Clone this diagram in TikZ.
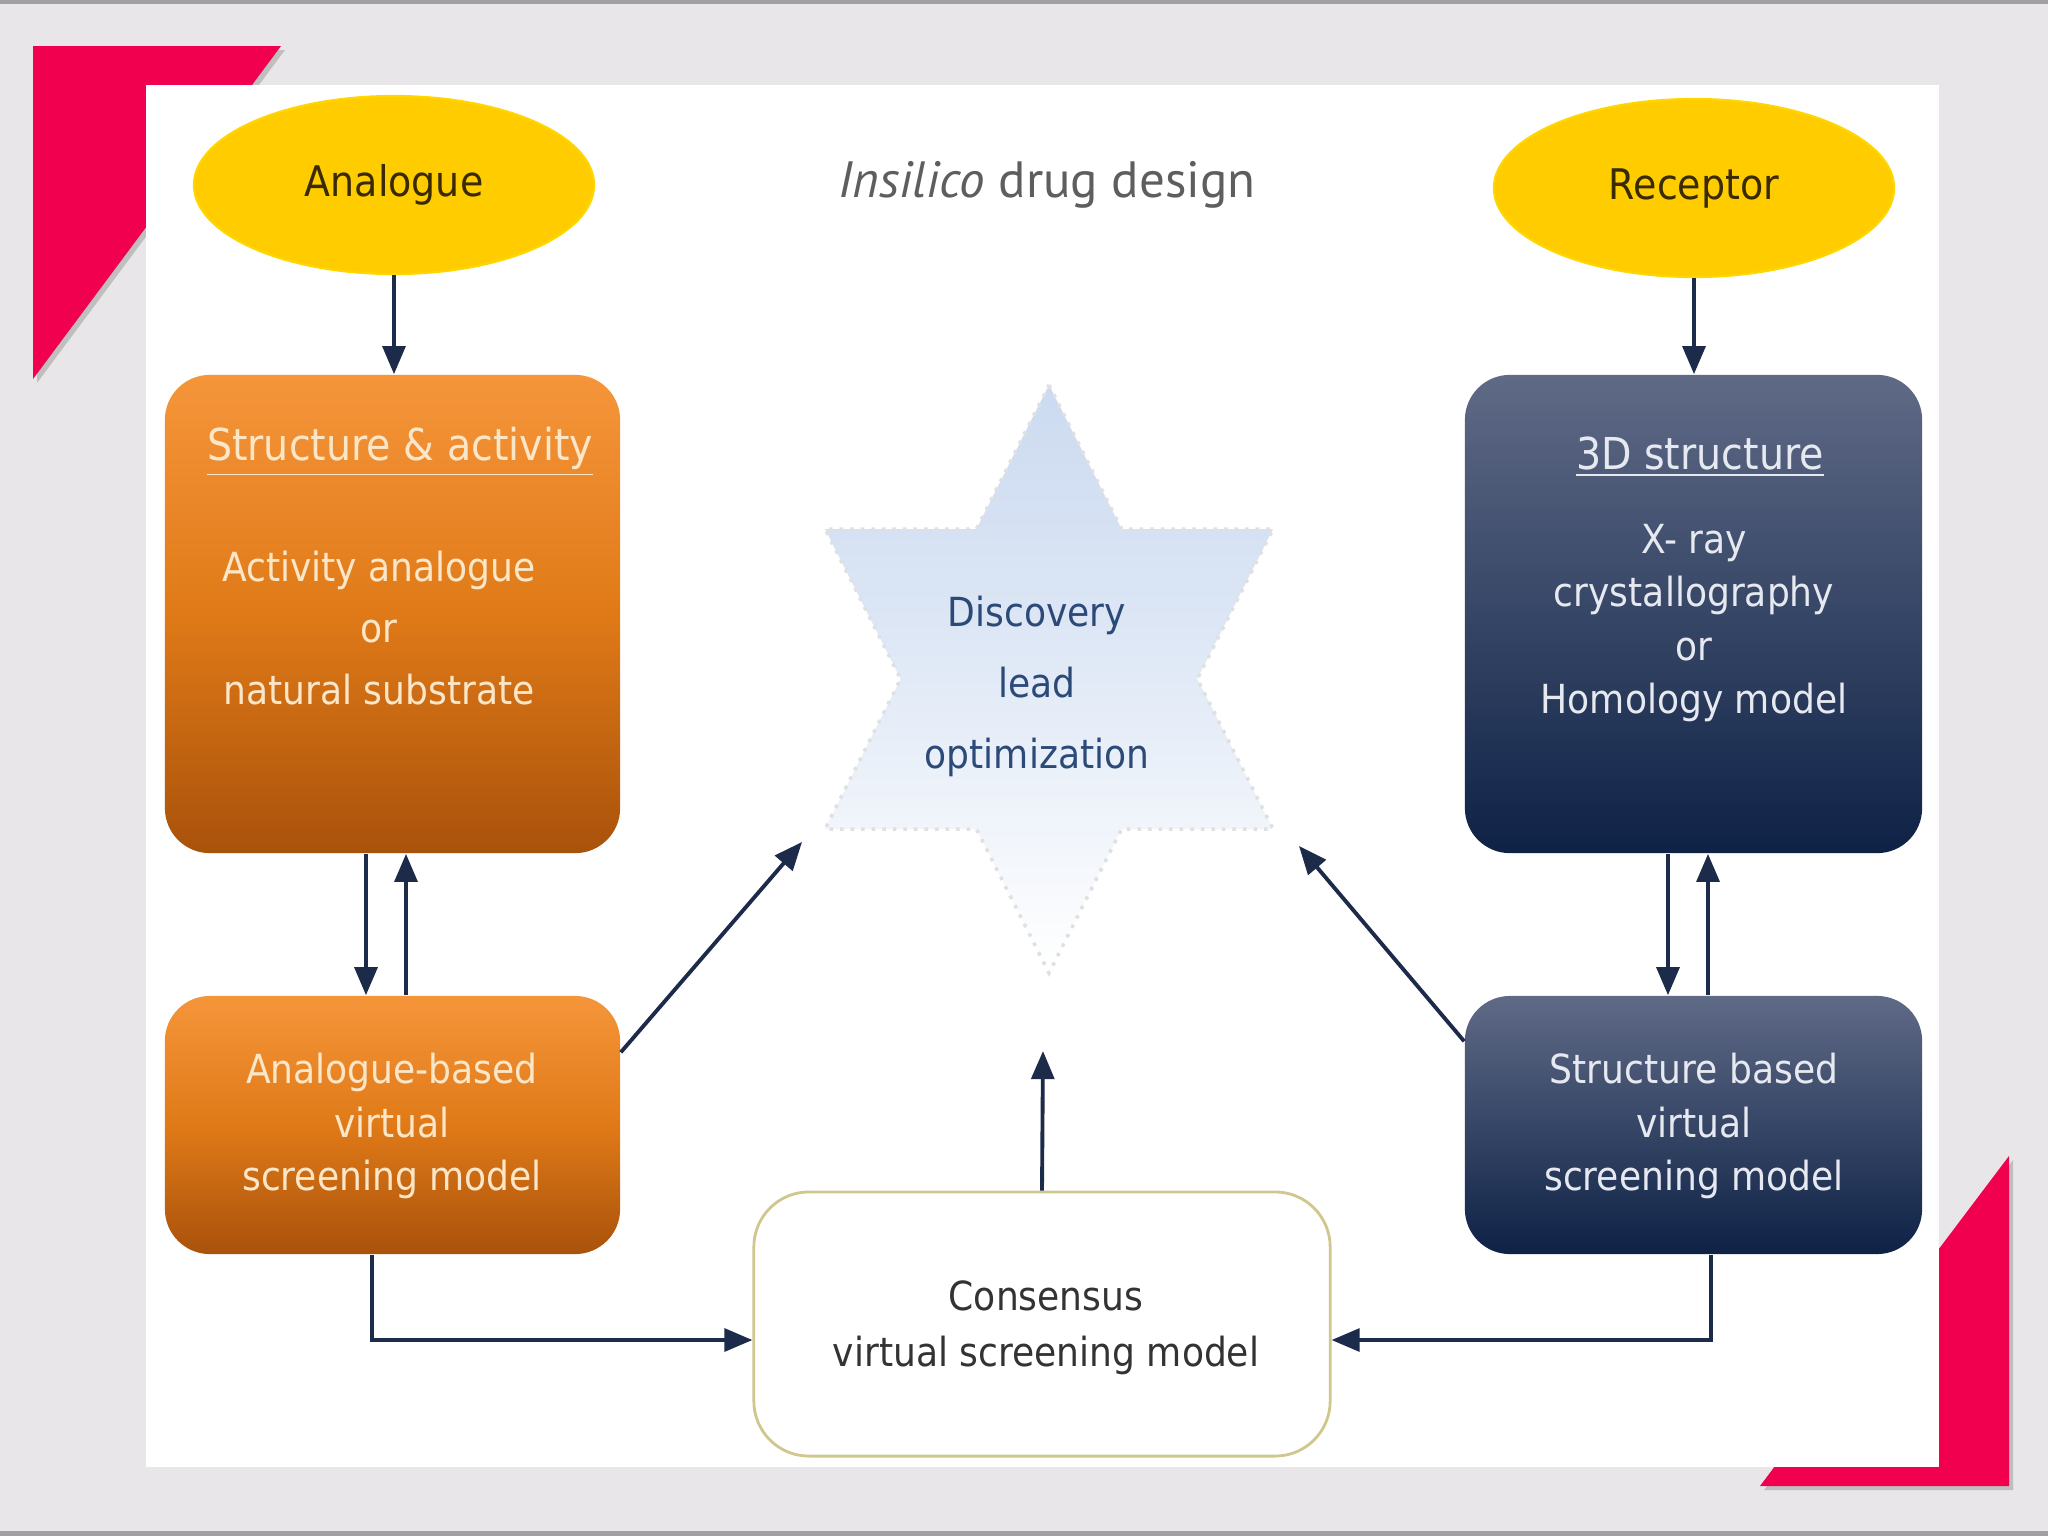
\documentclass[tikz,border=0pt]{standalone}
\usepackage{fontspec}
\setmainfont{DejaVu Sans}[FakeStretch=0.9]
\newfontfamily\titlefont{PT Sans}
\usetikzlibrary{arrows.meta,shapes.geometric}
\definecolor{bggray}{HTML}{E8E6E8}
\definecolor{edgegray}{HTML}{A0A0A0}
\definecolor{pinkred}{HTML}{F0004E}
\definecolor{gold}{HTML}{FFCC00}
\definecolor{goldtext}{HTML}{3A2A00}
\definecolor{orangetop}{HTML}{F5953A}
\definecolor{orangemid}{HTML}{E07A18}
\definecolor{orangebot}{HTML}{A9520B}
\definecolor{navytop}{HTML}{5F6A86}
\definecolor{navybot}{HTML}{0E2246}
\definecolor{cream}{HTML}{FCE6C8}
\definecolor{paletext}{HTML}{E6E9F0}
\definecolor{arrowcol}{HTML}{1C2B4A}
\definecolor{starblue}{HTML}{B8CCEA}
\definecolor{starmid}{HTML}{DCE6F5}
\definecolor{startext}{HTML}{2C4A78}
\definecolor{consborder}{HTML}{CFC78E}
\definecolor{titlegray}{HTML}{5E5E5E}
\pgfdeclareverticalshading{starshade}{100bp}{color(0bp)=(white); color(25bp)=(white); color(55bp)=(starmid); color(100bp)=(starblue)}
\tikzset{
  ell/.style={ellipse, fill=gold, draw=gold!80!yellow, line width=0.6pt, minimum width=4.0cm, minimum height=1.78cm, text=goldtext, font=\fontsize{12}{14}\selectfont},
  obox/.style={rectangle, rounded corners=0.45cm, top color=orangetop, bottom color=orangebot, middle color=orangemid, draw=none},
  nbox/.style={rectangle, rounded corners=0.45cm, top color=navytop, bottom color=navybot, draw=none},
  cbox/.style={rectangle, rounded corners=0.55cm, fill=white, draw=consborder, line width=0.8pt},
  otext/.style={text=cream, align=center},
  ntext/.style={text=paletext, align=center},
  arr/.style={draw=arrowcol, line width=1.1pt, -{Triangle[length=8pt,width=6.5pt]}},
  line/.style={draw=arrowcol, line width=1.1pt}
}
\begin{document}
\begin{tikzpicture}[x=0.01cm,y=-0.01cm]
\useasboundingbox (0,0) rectangle (2048,1536);
% background
\fill[bggray] (0,0) rectangle (2048,1536);
\fill[edgegray] (0,0) rectangle (2048,4);
\fill[edgegray] (0,1531) rectangle (2048,1536);
% red corner shapes
\fill[black!25] (37,50) -- (285,50) -- (37,383) -- cycle;
\fill[pinkred] (33,46) -- (281,46) -- (33,379) -- cycle;
\fill[black!25] (2013,1160) -- (2013,1490) -- (1764,1490) -- cycle;
\fill[pinkred] (2009,1156) -- (2009,1486) -- (1760,1486) -- cycle;
% white panel
\fill[white] (146,85) rectangle (1939,1467);
% title
\node (title) at (1047,185) {\titlefont\fontsize{14.5}{17}\selectfont\color{titlegray}\textit{Insilico} drug design};
% star
\shade[shading=starshade] (1049,385) -- (1121.6,529) -- (1273,529) -- (1197.3,679) -- (1273,829) -- (1121.6,829) -- (1049,973) -- (976.4,829) -- (825,829) -- (900.7,679) -- (825,529) -- (976.4,529) -- cycle;
\draw[black!12, dotted, line width=1pt] (1049,385) -- (1121.6,529) -- (1273,529) -- (1197.3,679) -- (1273,829) -- (1121.6,829) -- (1049,973) -- (976.4,829) -- (825,829) -- (900.7,679) -- (825,529) -- (976.4,529) -- cycle;
\node[text=startext, align=center, font=\fontsize{11.4}{20.2}\selectfont] (startext) at (1037,686) {Discovery\\lead\\optimization};
% ellipses
\node[ell] (analogue) at (394,185) {Analogue};
\node[ell] (receptor) at (1694,188) {Receptor};
% boxes
\node[obox, minimum width=4.55cm, minimum height=4.78cm] (sa) at (392.5,614) {};
\node[obox, minimum width=4.55cm, minimum height=2.58cm] (ab) at (392.5,1125) {};
\node[nbox, minimum width=4.57cm, minimum height=4.78cm] (td) at (1693.5,614) {};
\node[nbox, minimum width=4.57cm, minimum height=2.58cm] (sb) at (1693.5,1125) {};
\node[cbox, minimum width=5.76cm, minimum height=2.64cm] (cons) at (1042,1324) {};
% box texts
\node[otext, font=\fontsize{12.5}{15}\selectfont] (sahead) at (400,452) {\underline{Structure \& activity}};
\node[otext, font=\fontsize{11.4}{17.6}\selectfont] (sabody) at (379,628) {Activity analogue\\or\\natural substrate};
\node[otext, font=\fontsize{11.4}{15.1}\selectfont] (abbody) at (392,1126) {Analogue-based\\virtual\\screening model};
\node[ntext, font=\fontsize{12.5}{15}\selectfont] (tdhead) at (1700,457) {\underline{3D structure}};
\node[ntext, font=\fontsize{11.4}{15.1}\selectfont] (tdbody) at (1694,623) {X- ray\\crystallography\\or\\Homology model};
\node[ntext, font=\fontsize{11.4}{15.1}\selectfont] (sbbody) at (1694,1126) {Structure based\\virtual\\screening model};
\node[text=black!80, align=center, font=\fontsize{11.4}{15.9}\selectfont] (consbody) at (1046,1328) {Consensus\\virtual screening model};
% free ends near the star
\coordinate (starL) at (802,842);
\coordinate (starR) at (1299,846);
\coordinate (starB) at (1043,1051);
% connectors
\draw[arr] (analogue.south) -- (analogue.south |- sa.north);
\draw[arr] (receptor.south) -- (receptor.south |- td.north);
\draw[arr] ([xshift=-0.265cm]sa.south) -- ([xshift=-0.265cm]ab.north);
\draw[arr] ([xshift=0.135cm]ab.north) -- ([xshift=0.135cm]sa.south);
\draw[arr] ([xshift=-0.255cm]td.south) -- ([xshift=-0.255cm]sb.north);
\draw[arr] ([xshift=0.145cm]sb.north) -- ([xshift=0.145cm]td.south);
\draw[arr] ([xshift=-0.205cm]ab.south) |- ([yshift=-0.16cm]cons.west);
\draw[arr] ([xshift=0.175cm]sb.south) |- ([yshift=-0.16cm]cons.east);
\draw[arr] (cons.north) -- (starB);
\draw[arr] ([yshift=-0.57cm]ab.north east) -- (starL);
\draw[arr] ([yshift=-0.46cm]sb.north west) -- (starR);
\end{tikzpicture}
\end{document}
